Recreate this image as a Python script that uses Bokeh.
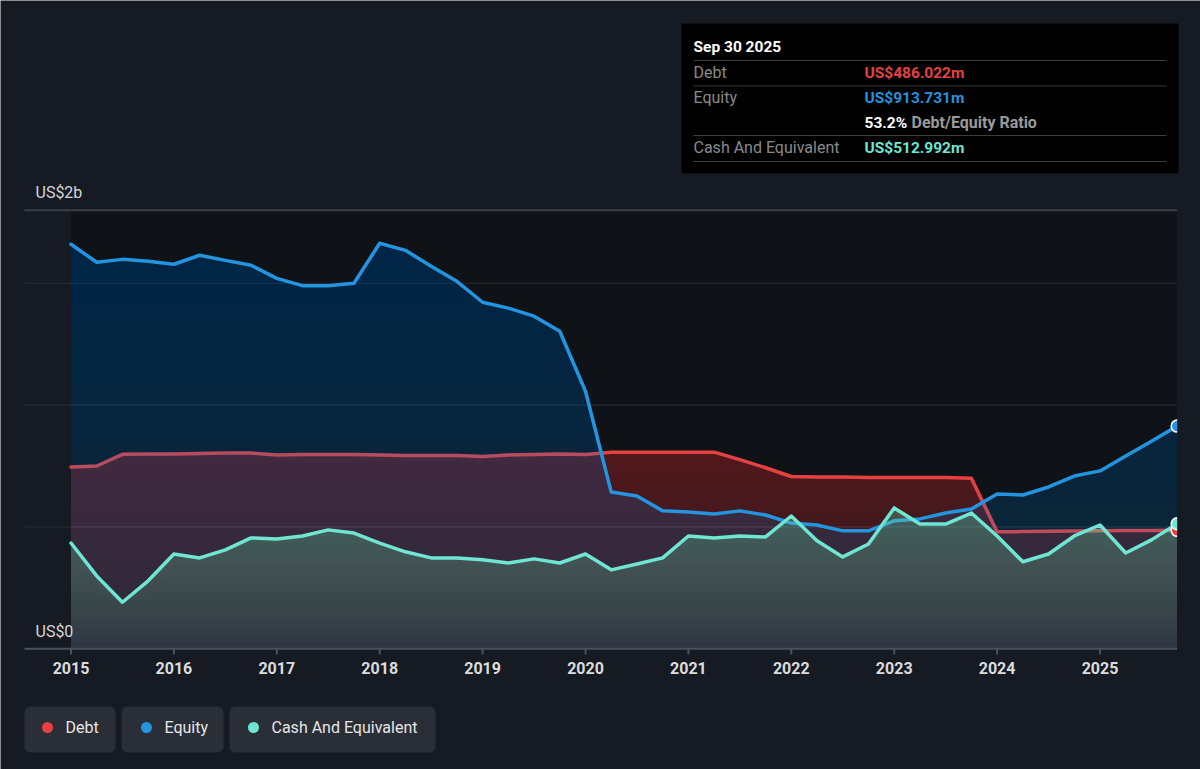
import numpy as np
from bokeh.plotting import figure
from bokeh.models import Range1d
from bokeh.core.properties import value
from bokeh.embed import file_html
from bokeh.resources import INLINE

# ---------------------------------------------------------------- data (US$ billions, quarterly)
periods = [2015.0 + 0.25 * i for i in range(44)]

debt = [0.746, 0.750, 0.798, 0.799, 0.799, 0.801, 0.803, 0.803, 0.795, 0.797, 0.797, 0.797,
        0.795, 0.793, 0.793, 0.793, 0.789, 0.795, 0.797, 0.799, 0.797, 0.807, 0.807, 0.807,
        0.807, 0.807, 0.776, 0.743, 0.707, 0.705, 0.705, 0.703, 0.703, 0.703, 0.703, 0.700,
        0.480, 0.481, 0.482, 0.483, 0.484, 0.485, 0.485, 0.486022]

equity = [1.660, 1.586, 1.598, 1.590, 1.578, 1.615, 1.594, 1.574, 1.520, 1.490, 1.490, 1.500,
          1.664, 1.635, 1.570, 1.508, 1.422, 1.398, 1.365, 1.303, 1.057, 0.643, 0.627, 0.566,
          0.561, 0.553, 0.566, 0.549, 0.516, 0.508, 0.484, 0.484, 0.525, 0.533, 0.557, 0.574,
          0.635, 0.631, 0.664, 0.709, 0.730, 0.791, 0.852, 0.913731]

cash = [0.434, 0.299, 0.191, 0.279, 0.389, 0.373, 0.406, 0.455, 0.451, 0.463, 0.488, 0.475,
        0.434, 0.398, 0.373, 0.373, 0.365, 0.352, 0.369, 0.352, 0.389, 0.324, 0.348, 0.373,
        0.463, 0.455, 0.463, 0.459, 0.545, 0.443, 0.377, 0.430, 0.578, 0.512, 0.512, 0.557,
        0.463, 0.357, 0.389, 0.463, 0.508, 0.393, 0.447, 0.512992]

series_names = ["Debt", "Equity", "Cash And Equivalent"]
year_ticks = list(range(2015, 2026))
tick_labels = [str(y) for y in year_ticks]
grid_values = [0.5, 1.0, 1.5]
top_value = 1.8
y_labels = ["US$2b", "US$0"]

summary_date = "Sep 30 2025"
summary_values = ["US$486.022m", "US$913.731m", "US$512.992m"]
ratio_text = "53.2%"

# ---------------------------------------------------------------- styling
BG = "#161b23"
PLOT_BG = "#0f1318"
RED = "#e64141"
BLUE = "#2394df"
TEAL = "#6ee6d3"
FONT = value("Roboto")

W, H = 1200, 769
X0_PX, PX_PER_YEAR = 70.5, 102.9
BASE_PX, PX_PER_B = 648.3, 243.7


def X(px):
    return 2015 + (px - X0_PX) / PX_PER_YEAR


def Y(py):
    return (BASE_PX - py) / PX_PER_B


p = figure(width=W, height=H, x_range=Range1d(X(0), X(W)), y_range=Range1d(Y(H), Y(0)),
           output_backend="svg", toolbar_location=None, min_border=0,
           x_axis_location=None, y_axis_location=None,
           background_fill_color=BG, border_fill_color=BG, outline_line_color=None)
p.grid.visible = False

x0, x1 = periods[0], periods[-1]

# plot-area background and grid
p.quad(left=[x0], right=[x1], bottom=[0], top=[top_value], fill_color=PLOT_BG, line_color=None)
p.segment(x0=[X(24)] * len(grid_values), x1=[x1] * len(grid_values), y0=grid_values, y1=grid_values,
          line_color="#272c33", line_width=1.2)
p.segment(x0=[X(24)], x1=[x1], y0=[top_value], y1=[top_value], line_color="#3a3f47", line_width=2)


def gradient_area(xs, ys, color, a_bot, a_top, layers=20):
    ys = np.asarray(ys, dtype=float)
    vmax = ys.max()
    p.varea(x=xs, y1=np.zeros_like(ys), y2=ys, fill_color=color, fill_alpha=a_bot)
    step = 1 - ((1 - a_top) / (1 - a_bot)) ** (1 / (layers - 1))
    for k in range(1, layers):
        level = vmax * k / layers
        p.varea(x=xs, y1=np.minimum(ys, level), y2=ys, fill_color=color, fill_alpha=step)


for ys, color, a_bot, a_top in [(debt, RED, 0.13, 0.28), (equity, BLUE, 0.14, 0.25), (cash, TEAL, 0.08, 0.33)]:
    gradient_area(periods, ys, color, a_bot, a_top)
    p.line(periods, ys, line_color=color, line_width=3.5, line_join="round", line_cap="round")

# end-of-series markers
for ys, color in [(debt, RED), (equity, BLUE), (cash, TEAL)]:
    p.scatter([x1], [ys[-1]], size=12, fill_color=color, line_color="white", line_width=1.5)
p.quad(left=[x1], right=[X(W)], bottom=[-0.05], top=[top_value], fill_color=BG, line_color=None)

# x axis: baseline, ticks, labels
p.segment(x0=[X(24)], x1=[x1], y0=[0], y1=[0], line_color="#4d525a", line_width=2)
p.segment(x0=year_ticks, x1=year_ticks, y0=[0] * len(year_ticks), y1=[Y(654)] * len(year_ticks),
          line_color="#4d525a", line_width=2)
p.text(x=year_ticks, y=[Y(667)] * len(year_ticks), text=tick_labels, text_font=FONT,
       text_font_size="16px", text_font_style="bold", text_color="#dcdcdc",
       text_align="center", text_baseline="middle")

# y labels
p.text(x=[X(35), X(35)], y=[Y(192), Y(631)], text=y_labels, text_font=FONT, text_font_size="16px",
       text_color="#d6d6d6", text_align="left", text_baseline="middle")

# summary panel
p.quad(left=[X(681)], right=[X(1178)], bottom=[Y(173)], top=[Y(23)], fill_color="#000000", line_color=None)
sep_y = [Y(60), Y(85.5), Y(135), Y(161)]
p.segment(x0=[X(693)] * 4, x1=[X(1166)] * 4, y0=sep_y, y1=sep_y, line_color="#3c3c3c", line_width=1.2)
p.text(x=[X(693)], y=[Y(46)], text=[summary_date], text_font=FONT, text_font_size="15.5px",
       text_font_style="bold", text_color="#ffffff", text_baseline="middle")
p.text(x=[X(693)] * 3, y=[Y(72), Y(97), Y(147)], text=series_names, text_font=FONT,
       text_font_size="16px", text_color="#8a8a8a", text_baseline="middle")
p.text(x=[X(864)] * 3, y=[Y(72), Y(97), Y(147)], text=summary_values, text_font=FONT,
       text_font_size="15.5px", text_font_style="bold", text_color=[RED, BLUE, TEAL], text_baseline="middle")
p.text(x=[X(864)], y=[Y(122)], text=[ratio_text], text_font=FONT, text_font_size="15.5px",
       text_font_style="bold", text_color="#ffffff", text_baseline="middle")
p.text(x=[X(911)], y=[Y(122)], text=["Debt/Equity Ratio"], text_font=FONT, text_font_size="16px",
       text_font_style="bold", text_color="#9a9a9a", text_baseline="middle")

# legend chips
chip_left = [24, 121, 229]
chip_right = [115, 223, 435]
p.quad(left=[X(v) for v in chip_left], right=[X(v) for v in chip_right],
       bottom=[Y(752)] * 3, top=[Y(706)] * 3, fill_color="#2a2e36", line_color=None, border_radius=6)
p.scatter([X(47), X(146), X(253)], [Y(727)] * 3, size=11, fill_color=[RED, BLUE, TEAL], line_color=None)
p.text(x=[X(65), X(164), X(271)], y=[Y(727)] * 3, text=series_names, text_font=FONT,
       text_font_size="16px", text_color="#e6e6e6", text_baseline="middle")

open("out.html", "w").write(file_html(p, INLINE))
